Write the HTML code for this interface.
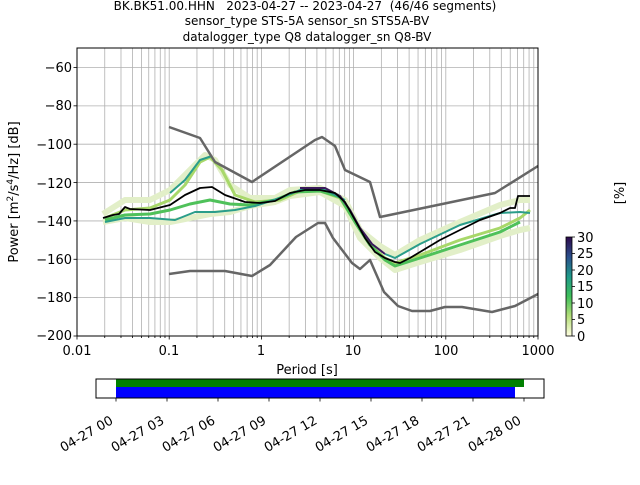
<!DOCTYPE html>
<html><head><meta charset="utf-8"><style>
body{margin:0;background:#fff;width:640px;height:480px;overflow:hidden}
svg{font-family:"DejaVu Sans","Liberation Sans",sans-serif}
</style></head><body>
<svg id="s" width="640" height="480" xmlns="http://www.w3.org/2000/svg">
<g id="grid" stroke="#b0b0b0" stroke-width="0.8"></g>
<g fill="none" stroke-linejoin="round">
<polyline stroke="#e2efc8" stroke-width="6" points="103,214 125,200 150,200 170,190 190,170 205,155 215,160 230,185 250,198 275,198 290,190 320,188 345,200 360,230 380,246 395,255 420,240 460,222 500,205 520,200 530,200"/>
<polyline stroke="#e2efc8" stroke-width="6" points="103,222 125,218 150,222 170,222 190,218 210,214 230,212 250,206 275,202 290,196 320,192 345,206 360,238 380,258 395,270 420,262 460,250 500,236 520,230 530,228"/>
<polyline stroke="#a8d86a" stroke-width="3" points="105,218 125,210 150,208 170,200 185,185 200,162 210,157 222,170 235,195 255,202 280,200 300,191 320,191 340,198 355,222 370,245 385,258 395,263 420,255 460,240 500,228 520,218 530,210"/>
<polyline stroke="#4fc15a" stroke-width="3" points="105,220 125,215 150,214 170,210 190,204 210,200 230,204 250,205 275,200 295,192 320,191 340,197 355,222 370,245 385,260 395,266 420,258 460,245 500,232 520,222"/>
<polyline stroke="#2a9d8a" stroke-width="2" points="105,222 125,218 150,218 175,220 195,212 215,212 235,210 255,206 280,198 300,190 325,190 345,200"/>
<polyline stroke="#2a9d8a" stroke-width="2" points="170,193 185,180 200,160 212,156"/>
<polyline stroke="#2a9d8a" stroke-width="2" points="385,254 395,258 420,244 460,225 500,213 520,212 530,213"/>
<polyline stroke="#3b1a5c" stroke-width="2" points="300,188 325,188 340,196 350,210 360,228 372,244 385,254"/>
<polyline stroke="#666" stroke-width="2.5" points="169,127 200,138 215,162 252,182 315,140 322,137 335,146 345,170 370,182 380,217 495,193 538,166"/>
<polyline stroke="#666" stroke-width="2.5" points="169,274 190,271 225,271 252,276 270,265 296,237 318,223 325,223 333,238 352,263 360,269 370,260 384,292 398,306 412,311 430,311 445,307 462,307 492,312 515,306 538,294"/>
<polyline stroke="#000" stroke-width="1.8" points="103,218 113,215 119,214 125,207 130,209 150,210 170,205 185,195 200,188 212,187 225,195 245,202 260,203 275,201 290,193 305,190 320,190 335,193 345,202 355,220 365,238 375,252 385,258 395,262 400,263 410,258 420,252 440,240 460,230 480,220 500,213 510,208 515,208 518,196 530,196"/>
</g>
<rect x="77" y="48" width="461" height="288" fill="none" stroke="#000" stroke-width="1"/>
<g id="ticks" stroke="#000" stroke-width="0.8"></g>
<g font-size="13" fill="#000" text-anchor="end">
<text x="72" y="72">−60</text><text x="72" y="110">−80</text><text x="72" y="149">−100</text><text x="72" y="188">−120</text><text x="72" y="226">−140</text><text x="72" y="264">−160</text><text x="72" y="302">−180</text><text x="72" y="340">−200</text>
</g>
<g font-size="13" fill="#000" text-anchor="middle">
<text x="77" y="355">0.01</text><text x="169" y="355">0.1</text><text x="261" y="355">1</text><text x="353" y="355">10</text><text x="446" y="355">100</text><text x="538" y="355">1000</text>
<text x="307" y="374">Period [s]</text>
<text x="0" y="0" transform="translate(18,192) rotate(-90)">Power [m<tspan font-size="9" dy="-5">2</tspan><tspan dy="5">/s</tspan><tspan font-size="9" dy="-5">4</tspan><tspan dy="5">/Hz] [dB]</tspan></text>
<text x="0" y="0" transform="translate(624,193) rotate(-90)">[%]</text>
</g>
<g font-size="12" fill="#000" text-anchor="middle" style="white-space:pre">
<text x="305" y="10" xml:space="preserve">BK.BK51.00.HHN   2023-04-27 -- 2023-04-27  (46/46 segments)</text>
<text x="307" y="25">sensor_type STS-5A sensor_sn STS5A-BV</text>
<text x="307" y="41">datalogger_type Q8 datalogger_sn Q8-BV</text>
</g>
<defs><linearGradient id="cb" x1="0" y1="1" x2="0" y2="0">
<stop offset="0" stop-color="#fffee0"/><stop offset="0.2" stop-color="#b5de7a"/><stop offset="0.4" stop-color="#3fbf5a"/><stop offset="0.6" stop-color="#1f9a8a"/><stop offset="0.8" stop-color="#2b4f8c"/><stop offset="1" stop-color="#2d0a4b"/></linearGradient></defs>
<rect x="566" y="237" width="6" height="99" fill="url(#cb)" stroke="#000" stroke-width="0.8"/>
<g font-size="13" fill="#000">
<text x="577" y="341">0</text><text x="577" y="324">5</text><text x="577" y="308">10</text><text x="577" y="291">15</text><text x="577" y="275">20</text><text x="577" y="258">25</text><text x="577" y="242">30</text>
</g>
<g stroke="#000" stroke-width="0.8"><line x1="572" y1="336" x2="575" y2="336"/><line x1="572" y1="319.5" x2="575" y2="319.5"/><line x1="572" y1="303" x2="575" y2="303"/><line x1="572" y1="286.5" x2="575" y2="286.5"/><line x1="572" y1="270" x2="575" y2="270"/><line x1="572" y1="253.5" x2="575" y2="253.5"/><line x1="572" y1="237" x2="575" y2="237"/></g>
<rect x="116" y="379" width="408" height="8" fill="#008000"/>
<rect x="116" y="387" width="399" height="11" fill="#0000ff"/>
<rect x="96" y="379" width="448" height="19" fill="none" stroke="#000" stroke-width="1"/>
<g id="tt" stroke="#000" stroke-width="0.8"></g>
<g font-size="13" fill="#000" text-anchor="end">
<text transform="translate(114,423) rotate(-30)">04-27 00</text>
<text transform="translate(165,423) rotate(-30)">04-27 03</text>
<text transform="translate(216,423) rotate(-30)">04-27 06</text>
<text transform="translate(267,423) rotate(-30)">04-27 09</text>
<text transform="translate(318,423) rotate(-30)">04-27 12</text>
<text transform="translate(369,423) rotate(-30)">04-27 15</text>
<text transform="translate(420,423) rotate(-30)">04-27 18</text>
<text transform="translate(471,423) rotate(-30)">04-27 21</text>
<text transform="translate(522,423) rotate(-30)">04-28 00</text>
</g>
</svg>
<script>
var NS="http://www.w3.org/2000/svg";
function L(g,x1,y1,x2,y2){var l=document.createElementNS(NS,"line");l.setAttribute("x1",x1);l.setAttribute("y1",y1);l.setAttribute("x2",x2);l.setAttribute("y2",y2);document.getElementById(g).appendChild(l);}
for(var d=0;d<5;d++)for(var k=1;k<10;k++){var x=77+92.2*(d+Math.log10(k));L("grid",x,48,x,336);L("ticks",x,336,x,k==1?339.5:338);}
L("ticks",538,336,538,339.5);
for(var i=0;i<8;i++){var y=336-i*38.36;L("grid",77,y,538,y);L("ticks",73.5,y,77,y);}
for(var i=0;i<9;i++){var x=116+51*i;L("tt",x,398,x,401.5);}
</script>
</body></html>
